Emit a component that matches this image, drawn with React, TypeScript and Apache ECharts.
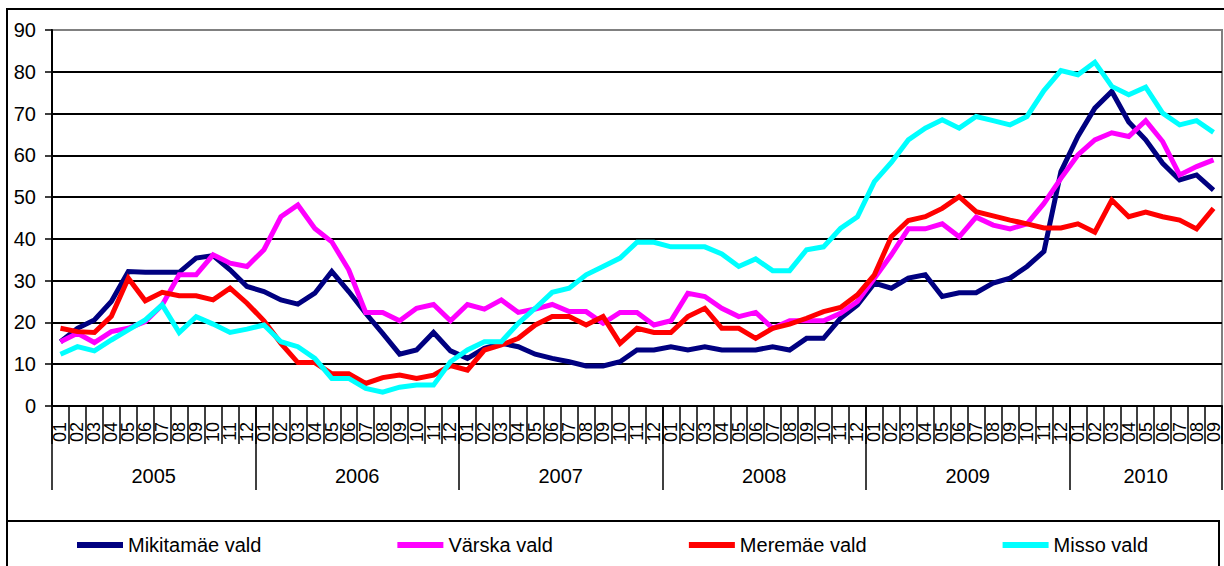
import React, { useEffect, useRef } from "react";
import * as echarts from "echarts";

const years = ["2005", "2006", "2007", "2008", "2009", "2010"];
const monthsPerYear = [12, 12, 12, 12, 12, 9];
const monthNames = ["01", "02", "03", "04", "05", "06", "07", "08", "09", "10", "11", "12"];

const seriesNames = ["Mikitamäe vald", "Värska vald", "Meremäe vald", "Misso vald"];
const seriesColors = ["#000080", "#FF00FF", "#FF0000", "#00FFFF"];

const mikitamae = [15.4, 18.6, 20.6, 25, 32.2, 32, 32, 32, 35.4, 36, 32.6, 28.6, 27.4, 25.4, 24.4, 27, 32.2, 27.4, 22.2, 17.4, 12.4,
  13.4, 17.6, 13.2, 11.4, 13.8, 15, 14.2, 12.4, 11.4, 10.6, 9.6, 9.6, 10.6, 13.4, 13.4, 14.2, 13.4, 14.2, 13.4, 13.4, 13.4, 14.2, 13.4, 16.2,
  16.2, 21, 24.2, 29.4, 28.2, 30.6, 31.4, 26.2, 27.1, 27.1, 29.4, 30.6, 33.4, 37, 56.1, 64.5, 71.3, 75.3, 68, 63.7, 58.1, 54.1, 55.3, 51.7];
const varska = [15.4, 17.4, 15.2, 17.8, 18.6, 20.2, 24.2, 31.4, 31.4, 36.2, 34.2, 33.4, 37.4, 45.3, 48.1, 42.5, 39.3, 32.6, 22.4, 22.4, 20.4,
  23.4, 24.3, 20.4, 24.3, 23.2, 25.4, 22.4, 23.2, 24.3, 22.6, 22.6, 19.8, 22.4, 22.4, 19.4, 20.4, 27, 26.2, 23.4, 21.4, 22.4, 18.6, 20.4, 20.4,
  20.4, 22.2, 25, 30.6, 36.2, 42.4, 42.4, 43.6, 40.5, 45.2, 43.3, 42.4, 43.6, 48.5, 54.5, 60.1, 63.7, 65.4, 64.5, 68.3, 63.3, 55.3, 57.3, 58.9];
const meremae = [18.6, 17.8, 17.6, 21.5, 30.6, 25.2, 27.2, 26.4, 26.4, 25.4, 28.2, 24.6, 20.4, 15, 10.4, 10.4, 7.7, 7.7, 5.4, 6.8, 7.4,
  6.6, 7.4, 9.7, 8.6, 13.4, 14.6, 16.2, 19.4, 21.4, 21.4, 19.4, 21.4, 15, 18.6, 17.6, 17.6, 21.4, 23.4, 18.6, 18.6, 16.2, 18.6, 19.6, 21,
  22.6, 23.6, 26.6, 31.4, 40.5, 44.4, 45.3, 47.3, 50.1, 46.5, 45.5, 44.5, 43.6, 42.6, 42.6, 43.6, 41.6, 49.3, 45.3, 46.4, 45.3, 44.5, 42.4, 47.3];
const misso = [12.4, 14.2, 13.2, 15.8, 18.2, 20.6, 24.2, 17.6, 21.4, 19.6, 17.6, 18.4, 19.4, 15.4, 14.2, 11.4, 6.6, 6.6, 4.2, 3.3, 4.5,
  5, 5, 10.6, 13.4, 15.4, 15.4, 19.8, 23.4, 27.2, 28.2, 31.4, 33.4, 35.4, 39.2, 39.2, 38.1, 38.1, 38.1, 36.4, 33.4, 35.2, 32.4, 32.4, 37.4,
  38.1, 42.5, 45.3, 53.7, 58.3, 63.7, 66.5, 68.5, 66.5, 69.3, 68.3, 67.3, 69.3, 75.5, 80.3, 79.3, 82.3, 76.5, 74.5, 76.3, 70.1, 67.3, 68.3, 65.5];

const seriesData = [mikitamae, varska, meremae, misso];

const yTicks = [0, 10, 20, 30, 40, 50, 60, 70, 80, 90];

const FONT = "'Liberation Sans', Arial, sans-serif";

export default function App() {
  const ref = useRef<HTMLDivElement>(null);

  useEffect(() => {
    if (!ref.current) return;
    const chart = echarts.init(ref.current, undefined, { renderer: "svg" });

    const monthCats: string[] = [];
    const yearCats: string[] = [];
    const yearStarts = new Set<number>();
    const yearLabelIdx: Record<number, { year: string; even: boolean }> = {};
    let idx = 0;
    years.forEach((y, yi) => {
      const n = monthsPerYear[yi];
      yearStarts.add(idx);
      const even = n % 2 === 0;
      const li = even ? idx + n / 2 : idx + (n - 1) / 2;
      yearLabelIdx[li] = { year: y, even };
      for (let m = 0; m < n; m++) {
        monthCats.push(monthNames[m]);
        yearCats.push(y + "-" + monthNames[m]);
      }
      idx += n;
    });

    const splitColors = yTicks.map((t) => (t === yTicks[yTicks.length - 1] ? "#808080" : "#000000"));

    chart.setOption({
      animation: false,
      backgroundColor: "#ffffff",
      textStyle: { fontFamily: FONT },
      grid: {
        left: 52,
        top: 30,
        width: 1170,
        height: 376,
        show: true,
        borderColor: "#808080",
        borderWidth: 2,
        containLabel: false,
      },
      legend: {
        data: seriesNames,
        left: 72,
        top: 530,
        icon: "rect",
        itemWidth: 46,
        itemHeight: 6,
        itemGap: 136,
        textStyle: { fontSize: 20, color: "#000", fontFamily: FONT },
      },
      xAxis: [
        {
          type: "category",
          data: monthCats,
          boundaryGap: true,
          position: "bottom",
          axisLine: { show: true, lineStyle: { color: "#000", width: 2 } },
          axisTick: { show: true, interval: 0, length: 38, lineStyle: { color: "#000", width: 1.5 } },
          axisLabel: {
            interval: 0,
            rotate: 90,
            margin: 16,
            fontSize: 18,
            color: "#000",
            fontFamily: FONT,
          },
          splitLine: { show: false },
        },
        {
          type: "category",
          data: yearCats,
          boundaryGap: true,
          position: "bottom",
          offset: 0,
          axisLine: { show: false },
          axisTick: {
            show: true,
            interval: (i: number) => yearStarts.has(i),
            length: 84,
            lineStyle: { color: "#000", width: 1.5 },
          },
          axisLabel: {
            interval: (i: number) => yearLabelIdx[i] !== undefined,
            margin: 60,
            fontSize: 20,
            color: "#000",
            fontFamily: FONT,
            formatter: (_v: string, i: number) => {
              const info = yearLabelIdx[i];
              if (!info) return "";
              return info.even ? "{e|" + info.year + "}" : "{o|" + info.year + "}";
            },
            rich: {
              e: { fontSize: 20, color: "#000", fontFamily: FONT, padding: [0, 17, 0, 0] },
              o: { fontSize: 20, color: "#000", fontFamily: FONT },
            },
          },
          splitLine: { show: false },
        },
      ],
      yAxis: {
        type: "value",
        min: 0,
        max: 90,
        interval: 10,
        axisLine: { show: true, lineStyle: { color: "#000", width: 2 } },
        axisTick: { show: true, length: 7, lineStyle: { color: "#000", width: 1.5 } },
        axisLabel: { fontSize: 20, color: "#000", margin: 16, fontFamily: FONT },
        splitLine: { show: true, lineStyle: { color: splitColors, width: 2 } },
      },
      graphic: [
        {
          type: "rect",
          z: -10,
          shape: { x: 7, y: 9, width: 1240, height: 600 },
          style: { fill: "none", stroke: "#000", lineWidth: 2 },
          silent: true,
        },
        {
          type: "rect",
          z: -10,
          shape: { x: 7, y: 521, width: 1212, height: 60 },
          style: { fill: "none", stroke: "#000", lineWidth: 2 },
          silent: true,
        },
      ],
      series: seriesNames.map((name, si) => ({
        name,
        type: "line",
        xAxisIndex: 0,
        yAxisIndex: 0,
        data: seriesData[si],
        symbol: "none",
        showSymbol: false,
        lineStyle: { color: seriesColors[si], width: 5, join: "miter" },
        itemStyle: { color: seriesColors[si] },
      })),
    });

    return () => chart.dispose();
  }, []);

  return (
    <div
      ref={ref}
      style={{ position: "absolute", left: 0, top: 0, width: 1224, height: 566 }}
    />
  );
}
